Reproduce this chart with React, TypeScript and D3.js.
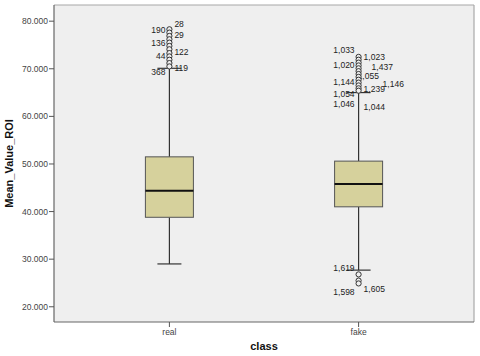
import React from "react";
import * as d3 from "d3";

// box plot data
const categories = ["real", "fake"];
const q1 = [38.8, 41.0];
const median = [44.4, 45.8];
const q3 = [51.5, 50.6];
const whiskerLow = [29.0, 27.7];
const whiskerHigh = [70.1, 65.0];

const outliersReal = [78.3, 77.6, 76.9, 76.2, 75.5, 74.8, 74.1, 73.3, 72.6, 71.9, 71.2, 70.5];
const outliersFake = [72.5, 71.9, 71.3, 70.7, 70.1, 69.5, 68.9, 68.3, 67.7, 67.1, 66.5, 65.9, 65.4, 26.8, 25.5, 24.9];

// case labels: [category, text, value, side]
const caseLabels: [string, string, number, string][] = [
  ["real", "28", 79.5, "right"],
  ["real", "190", 78.2, "left"],
  ["real", "29", 77.1, "right"],
  ["real", "136", 75.4, "left"],
  ["real", "122", 73.5, "right"],
  ["real", "44", 72.6, "left"],
  ["real", "119", 70.1, "right"],
  ["real", "368", 69.4, "left"],
  ["fake", "1,033", 73.9, "left"],
  ["fake", "1,023", 72.5, "right"],
  ["fake", "1,020", 70.8, "left"],
  ["fake", "1,437", 70.4, "far"],
  ["fake", "1,055", 68.5, "under"],
  ["fake", "1,144", 67.3, "left"],
  ["fake", "1,146", 66.7, "farther"],
  ["fake", "1,239", 65.7, "right"],
  ["fake", "1,054", 64.8, "left"],
  ["fake", "1,046", 62.7, "left"],
  ["fake", "1,044", 61.9, "right"],
  ["fake", "1,619", 28.2, "left"],
  ["fake", "1,598", 23.2, "left"],
  ["fake", "1,605", 23.7, "right"],
];

const yTicks = [20, 30, 40, 50, 60, 70, 80];

const W = 480;
const H = 356;
const left = 54, right = 474, top = 5, bottom = 322;

export default function App() {
  const x = d3.scalePoint<string>().domain(categories).range([left, right]).padding(0.61);
  const y = d3.scaleLinear().domain([16.8, 83.4]).range([bottom, top]);
  const fmt = d3.format(".3f");
  const boxW = 48;
  const capW = 24;
  const font = "'Liberation Sans', Arial, sans-serif";

  const dxFor = (side: string) => {
    if (side === "left") return -4;
    if (side === "right") return 5;
    if (side === "far") return 13;
    if (side === "farther") return 24;
    return -1; // partly hidden under the circles
  };

  const outliers = [outliersReal, outliersFake];

  return (
    <svg width={W} height={H} style={{ position: "absolute", left: 0, top: 0, background: "#fff" }}
      fontFamily={font}>
      <rect x={left} y={top} width={right - left} height={bottom - top} fill="#efefef" />
      <line x1={left} x2={right} y1={top} y2={top} stroke="#a8a8a8" strokeWidth={1.2} />
      <line x1={right} x2={right} y1={top} y2={bottom} stroke="#a8a8a8" strokeWidth={1.2} />
      <line x1={left} x2={left} y1={top} y2={bottom} stroke="#666" strokeWidth={1.2} />
      <line x1={left} x2={right} y1={bottom} y2={bottom} stroke="#666" strokeWidth={1.2} />

      {yTicks.map(t => (
        <g key={t} transform={`translate(0,${y(t)})`}>
          <line x1={left - 5} x2={left} stroke="#555" />
          <text x={left - 6} dy="0.35em" textAnchor="end" fontSize={8.5} fill="#444">{fmt(t)}</text>
        </g>
      ))}

      {categories.map((c, i) => {
        const cx = x(c)!;
        return (
          <g key={c}>
            <line x1={cx} x2={cx} y1={bottom} y2={bottom + 5} stroke="#555" />
            <text x={cx} y={bottom + 13} textAnchor="middle" fontSize={8.5} fill="#444">{c}</text>
            <line x1={cx} x2={cx} y1={y(whiskerHigh[i])} y2={y(q3[i])} stroke="#333" strokeWidth={1.2} />
            <line x1={cx} x2={cx} y1={y(q1[i])} y2={y(whiskerLow[i])} stroke="#333" strokeWidth={1.2} />
            <line x1={cx - capW / 2} x2={cx + capW / 2} y1={y(whiskerHigh[i])} y2={y(whiskerHigh[i])} stroke="#333" strokeWidth={1.2} />
            <line x1={cx - capW / 2} x2={cx + capW / 2} y1={y(whiskerLow[i])} y2={y(whiskerLow[i])} stroke="#333" strokeWidth={1.2} />
            <rect x={cx - boxW / 2} y={y(q3[i])} width={boxW} height={y(q1[i]) - y(q3[i])}
              fill="#d6d19c" stroke="#555" strokeWidth={1} />
            <line x1={cx - boxW / 2} x2={cx + boxW / 2} y1={y(median[i])} y2={y(median[i])} stroke="#111" strokeWidth={2} />
          </g>
        );
      })}

      {caseLabels.map(([c, label, v, side], i) => (
        <text key={i} x={x(c)! + dxFor(side)} y={y(v)} dy="0.35em"
          textAnchor={side === "left" ? "end" : "start"} fontSize={8.5} fill="#222">{label}</text>
      ))}

      {categories.map((c, i) =>
        outliers[i].map((v, j) => (
          <circle key={c + j} cx={x(c)!} cy={y(v)} r={2.6} fill="#efefef" stroke="#333" strokeWidth={1} />
        ))
      )}

      <text x={(left + right) / 2} y={350} textAnchor="middle" fontSize={11} fontWeight="bold" fill="#111">class</text>
      <text transform={`translate(13,${(top + bottom) / 2}) rotate(-90)`} textAnchor="middle"
        fontSize={11} fontWeight="bold" fill="#111">Mean_Value_ROI</text>
    </svg>
  );
}
